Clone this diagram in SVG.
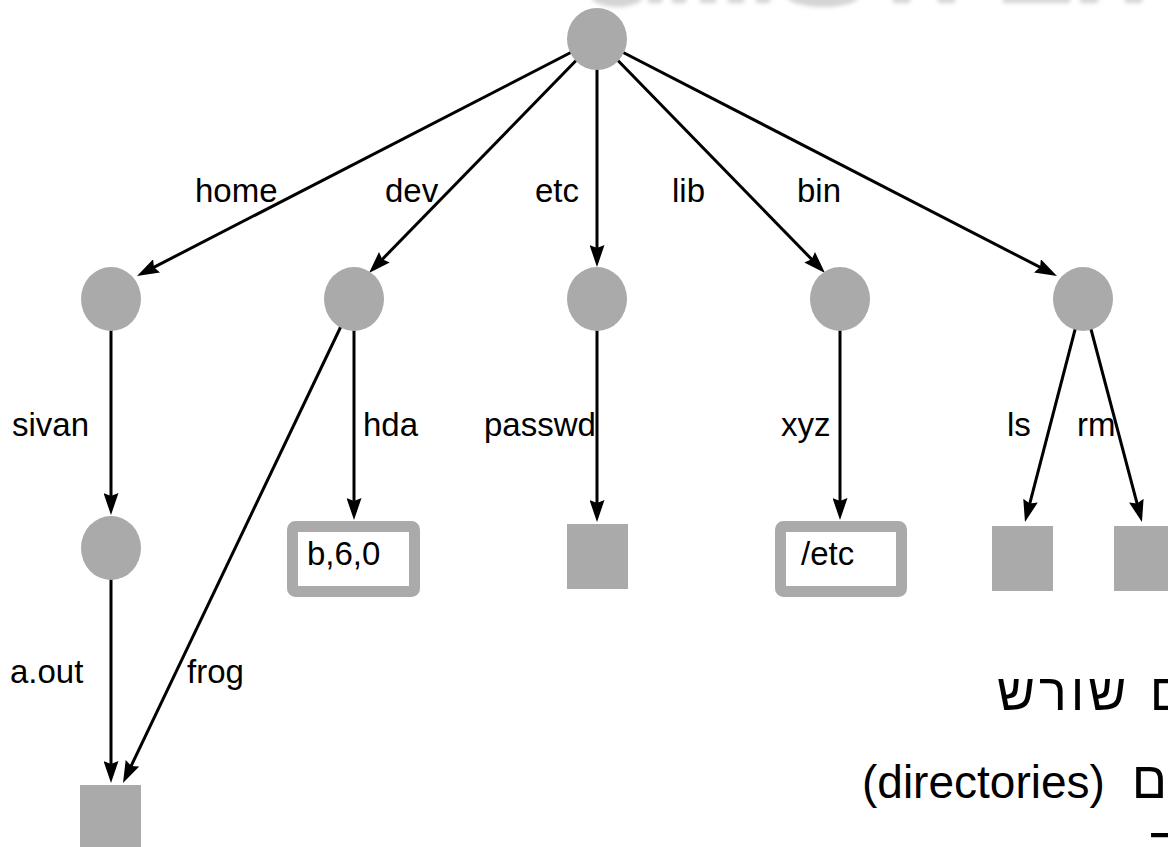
<svg xmlns="http://www.w3.org/2000/svg" width="1168" height="847" viewBox="0 0 1168 847">
<defs>
<style>
.lbl{font-family:"Liberation Sans",Arial,sans-serif;font-size:33px;fill:#000}
.big{font-family:"Liberation Sans","Noto Sans",Arial,sans-serif;font-size:46px;fill:#000}
.heb{font-family:"Liberation Sans","DejaVu Sans",Arial,sans-serif;font-size:52px;fill:#000;letter-spacing:4px;word-spacing:1px}
.e{stroke:#000;stroke-width:3;fill:none;marker-end:url(#ah)}
.dir{fill:#aaaaaa}
.leaf{fill:#aaaaaa}
.box{fill:#fff;stroke:#aaaaaa;stroke-width:11}
</style>
<marker id="ah" viewBox="0 0 22 15" markerWidth="22" markerHeight="15" refX="12" refY="7.5" orient="auto" markerUnits="userSpaceOnUse">
<path d="M0,0 L22,7.5 L0,15 L3,7.5 z" fill="#000"/>
</marker>
<filter id="bl" x="-20%" y="-50%" width="140%" height="200%"><feGaussianBlur stdDeviation="2"/></filter>
</defs>
<rect width="1168" height="847" fill="#fff"/>
<g id="faded-title" fill="#d4d4d4" filter="url(#bl)">
<ellipse cx="617" cy="-4" rx="26" ry="11"/>
<rect x="648" y="-6" width="14" height="9"/>
<rect x="672" y="-6" width="14" height="9"/>
<rect x="700" y="-6" width="16" height="9"/>
<rect x="728" y="-6" width="16" height="9"/>
<rect x="756" y="-6" width="14" height="9"/>
<ellipse cx="823" cy="-4" rx="36" ry="11"/>
<rect x="893" y="-6" width="17" height="9"/>
<rect x="938" y="-6" width="17" height="9"/>
<rect x="1003" y="-6" width="67" height="9"/>
<rect x="1080" y="-6" width="18" height="9"/>
<rect x="1125" y="-6" width="17" height="9"/>
</g>
<g id="connectors">
<line class="e" x1="597" y1="39" x2="145.9" y2="271.4"/>
<line class="e" x1="597" y1="39" x2="376" y2="265.8"/>
<line class="e" x1="597" y1="39" x2="597" y2="257"/>
<line class="e" x1="597" y1="39" x2="818" y2="265.8"/>
<line class="e" x1="597" y1="39" x2="1048.1" y2="271.4"/>
<line class="e" x1="111" y1="299" x2="111" y2="505"/>
<line class="e" x1="354" y1="299" x2="127.3" y2="774"/>
<line class="e" x1="354" y1="299" x2="354" y2="510"/>
<line class="e" x1="597" y1="299" x2="597" y2="512"/>
<line class="e" x1="840" y1="299" x2="840" y2="510"/>
<line class="e" x1="1083" y1="299" x2="1027.5" y2="512.3"/>
<line class="e" x1="1083" y1="299" x2="1139.4" y2="512.3"/>
<line class="e" x1="111" y1="548" x2="111" y2="773"/>
</g>
<g id="edge-labels">
<text class="lbl" x="195" y="202">home</text>
<text class="lbl" x="385" y="202">dev</text>
<text class="lbl" x="535" y="202">etc</text>
<text class="lbl" x="672" y="202">lib</text>
<text class="lbl" x="797" y="202">bin</text>
<text class="lbl" x="12" y="436">sivan</text>
<text class="lbl" x="363" y="436">hda</text>
<text class="lbl" x="484" y="436">passwd</text>
<text class="lbl" x="781" y="436">xyz</text>
<text class="lbl" x="1007" y="436">ls</text>
<text class="lbl" x="1077" y="436">rm</text>
<text class="lbl" x="10" y="683">a.out</text>
<text class="lbl" x="187" y="683">frog</text>
</g>
<g id="root"><ellipse class="dir" cx="597" cy="39" rx="30" ry="31"/></g>
<g id="home"><ellipse class="dir" cx="111" cy="299" rx="30" ry="32"/></g>
<g id="dev"><ellipse class="dir" cx="354" cy="299" rx="30" ry="32"/></g>
<g id="etc"><ellipse class="dir" cx="597" cy="299" rx="30" ry="32"/></g>
<g id="lib"><ellipse class="dir" cx="840" cy="299" rx="30" ry="32"/></g>
<g id="bin"><ellipse class="dir" cx="1083" cy="299" rx="30" ry="32"/></g>
<g id="sivan"><ellipse class="dir" cx="111" cy="548" rx="30" ry="32"/></g>
<g id="hda"><rect class="box" x="292.5" y="526.5" width="122" height="65" rx="3"/><text class="lbl" x="307" y="565">b,6,0</text></g>
<g id="passwd"><rect class="leaf" x="567" y="524" width="61" height="65"/></g>
<g id="xyz"><rect class="box" x="780.5" y="526.5" width="121" height="65" rx="3"/><text class="lbl" x="801" y="565">/etc</text></g>
<g id="ls"><rect class="leaf" x="992" y="526" width="61" height="65"/></g>
<g id="rm"><rect class="leaf" x="1114" y="526" width="61" height="65"/></g>
<g id="aout"><rect class="leaf" x="80" y="785" width="61" height="65"/></g>
<g id="hebrew-text">
<text class="heb" x="997" y="710">ם שורש</text>
<text class="big" x="862" y="798">(directories)<tspan class="heb" dx="27">ם</tspan></text>
<text class="heb" x="1150" y="864">ד</text>
</g>
</svg>
